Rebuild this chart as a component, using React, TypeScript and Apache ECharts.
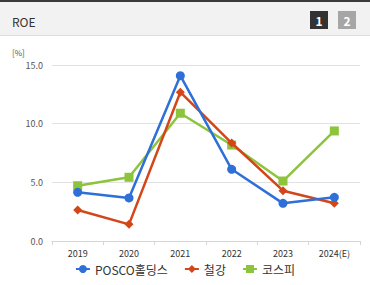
import React, { useEffect, useRef } from "react";
import * as echarts from "echarts";

const categories = ["2019", "2020", "2021", "2022", "2023", "2024(E)"];
const seriesNames = ["POSCO홀딩스", "철강", "코스피"];
const poscoValues = [4.15, 3.67, 14.09, 6.11, 3.21, 3.72];
const steelValues = [2.64, 1.42, 12.68, 8.35, 4.29, 3.21];
const kospiValues = [4.71, 5.43, 10.89, 8.18, 5.11, 9.38];
const yTicks = { min: 0, max: 15, interval: 5 };

const FONT = "'Noto Sans CJK KR', 'Noto Sans', sans-serif";

export default function App() {
  const ref = useRef<HTMLDivElement>(null);
  useEffect(() => {
    if (!ref.current) return;
    const chart = echarts.init(ref.current, null, { renderer: "svg" });
    const colors = ["#2f6fd8", "#d2461a", "#8cc43c"];
    const symbols = ["circle", "diamond", "rect"];
    const sizes = [9, 9, 9];
    const data = [poscoValues, steelValues, kospiValues];
    chart.setOption({
      animation: false,
      backgroundColor: "#ffffff",
      textStyle: { fontFamily: FONT },
      graphic: [
        { type: "rect", shape: { x: 0, y: 0, width: 370, height: 35 }, style: { fill: "#f2f2f2" }, silent: true },
        { type: "rect", shape: { x: 0, y: 0, width: 370, height: 2 }, style: { fill: "#3a3a3a" }, silent: true },
        { type: "rect", shape: { x: 0, y: 35, width: 370, height: 1 }, style: { fill: "#dcdcdc" }, silent: true },
        { type: "text", x: 12, y: 21, style: { text: "ROE", fill: "#333", font: `12px ${FONT}`, textVerticalAlign: "middle" } },
        { type: "rect", shape: { x: 310, y: 11, width: 18, height: 18 }, style: { fill: "#333333" } },
        { type: "text", x: 319, y: 20, style: { text: "1", fill: "#fff", font: `bold 12px ${FONT}`, textAlign: "center", textVerticalAlign: "middle" } },
        { type: "rect", shape: { x: 338, y: 11, width: 18, height: 18 }, style: { fill: "#a6a6a6" } },
        { type: "text", x: 347, y: 20, style: { text: "2", fill: "#fff", font: `bold 12px ${FONT}`, textAlign: "center", textVerticalAlign: "middle" } },
        { type: "text", x: 12, y: 52, style: { text: "[%]", fill: "#555", font: `8px ${FONT}`, textVerticalAlign: "middle" } },
      ],
      grid: { left: 52, right: 10, top: 65, bottom: 44 },
      legend: {
        bottom: 5,
        left: "center",
        itemWidth: 14,
        itemHeight: 10,
        itemGap: 16,
        textStyle: { fontSize: 12, color: "#333", fontFamily: FONT },
        data: seriesNames,
      },
      xAxis: {
        type: "category",
        data: categories,
        boundaryGap: true,
        axisLine: { lineStyle: { color: "#cfd6df", width: 1 } },
        axisTick: { show: true, length: 4, lineStyle: { color: "#cfd6df" } },
        axisLabel: { fontSize: 9, color: "#333", margin: 8, fontFamily: FONT },
      },
      yAxis: {
        type: "value",
        min: yTicks.min,
        max: yTicks.max,
        interval: yTicks.interval,
        axisLine: { show: false },
        axisTick: { show: false },
        axisLabel: { fontSize: 9, color: "#555", margin: 9, formatter: (v: number) => v.toFixed(1), fontFamily: FONT },
        splitLine: { lineStyle: { color: "#e2e2e2" } },
      },
      series: seriesNames.map((name, i) => ({
        name,
        type: "line",
        data: data[i],
        symbol: symbols[i],
        symbolSize: sizes[i],
        showAllSymbol: true,
        itemStyle: { color: colors[i] },
        lineStyle: { color: colors[i], width: 2.5 },
        z: 3 - i,
      })),
    });
    return () => chart.dispose();
  }, []);
  return (
    <div style={{ position: "absolute", left: 0, top: 0, width: 370, height: 285 }}>
      <div ref={ref} style={{ width: 370, height: 285 }} />
    </div>
  );
}
